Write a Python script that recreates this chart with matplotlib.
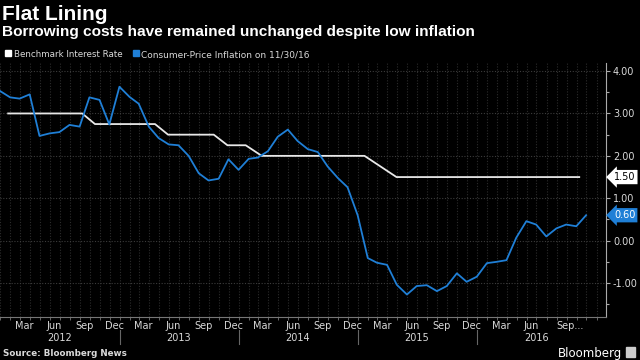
import matplotlib
matplotlib.use('Agg')
import matplotlib.pyplot as plt
import matplotlib.dates as mdates
import matplotlib.transforms as mtransforms
from matplotlib.patches import Rectangle
from matplotlib.lines import Line2D
import pandas as pd

# Thailand consumer-price inflation, % y/y, month-end (Dec 2011 - Nov 2016)
cpi_dates = pd.date_range('2011-12-31', periods=60, freq='ME')
cpi_values = [3.53,
              3.38, 3.35, 3.45, 2.47, 2.53, 2.56, 2.73, 2.69, 3.38, 3.32, 2.74, 3.63,
              3.39, 3.23, 2.69, 2.42, 2.27, 2.25, 2.00, 1.59, 1.42, 1.46, 1.92, 1.67,
              1.93, 1.96, 2.11, 2.45, 2.62, 2.35, 2.16, 2.09, 1.75, 1.48, 1.26, 0.60,
              -0.41, -0.52, -0.57, -1.04, -1.27, -1.07, -1.05, -1.19, -1.07, -0.77, -0.97, -0.85,
              -0.53, -0.50, -0.46, 0.07, 0.46, 0.38, 0.10, 0.29, 0.38, 0.34, 0.60]

# benchmark interest rate, points where the line bends
rate_dates = pd.to_datetime(['2012-01-25', '2012-09-08', '2012-10-17', '2013-04-19',
                             '2013-05-29', '2013-10-16', '2013-11-27', '2014-01-22',
                             '2014-03-12', '2015-01-21', '2015-03-11', '2015-04-29',
                             '2016-11-09'])
rate_values = [3.00, 3.00, 2.75, 2.75, 2.50, 2.50, 2.25, 2.25, 2.00, 2.00, 1.75, 1.50, 1.50]

years = [2012, 2013, 2014, 2015, 2016]
month_names = ['Mar', 'Jun', 'Sep', 'Dec']
y_ticks = [-1, 0, 1, 2, 3, 4]

BLUE = '#1f7fd6'
WHITE = '#e8e8e8'
GRID = '#3c3c3c'
TXT = '#d9d9d9'


def dnum(d):
    return mdates.date2num(pd.Timestamp(d).to_pydatetime())


fig = plt.figure(figsize=(6.4, 3.6), dpi=100, facecolor='black')
ax = fig.add_axes([0, 43 / 360, 606 / 640, 254 / 360])
ax.set_facecolor('black')

ax.plot(rate_dates, rate_values, color=WHITE, lw=1.3, zorder=3)
ax.plot(cpi_dates, cpi_values, color=BLUE, lw=1.3, zorder=4)

ax.set_xlim(dnum('2011-12-31'), dnum('2017-01-30'))
ax.set_ylim(-1.8, 4.19)

# y axis on the right
ax.yaxis.tick_right()
ax.set_yticks(y_ticks)
ax.set_yticklabels(['-1.00' if v < 0 else f'{v:.2f}' for v in y_ticks])
ax.set_yticks([v + 0.5 for v in range(-2, 4)], minor=True)
ax.tick_params(axis='y', which='major', colors='#aaaaaa', labelcolor=TXT,
               length=3, width=0.8, labelsize=7, pad=2)
ax.tick_params(axis='y', which='minor', colors='#aaaaaa', length=2, width=0.8)

# month ticks
tick_pos, tick_labels = [], []
for yr in years:
    for i, name in enumerate(month_names):
        d = pd.Timestamp(yr, 3 * (i + 1), 15)
        if d > pd.Timestamp('2016-11-30'):
            continue
        tick_pos.append(dnum(d))
        tick_labels.append(name)
tick_labels[-1] = 'Sep...'
ax.set_xticks(tick_pos)
ax.set_xticklabels(tick_labels)
ax.set_xticks([dnum(d) for d in pd.date_range('2012-01-01', '2017-01-01', freq='MS')],
              minor=True)
ax.tick_params(axis='x', which='major', length=0, labelsize=7, labelcolor=TXT, pad=3)
ax.tick_params(axis='x', which='minor', length=2, width=0.6, colors='#777777')
last = ax.get_xticklabels()[-1]
last.set_transform(last.get_transform() +
                   mtransforms.ScaledTranslation(6 / 72, 0, fig.dpi_scale_trans))

ax.grid(axis='y', which='major', color=GRID, linestyle=(0, (1, 1.5)), lw=0.8)
ax.grid(axis='x', which='minor', color='#2c2c2c', linestyle=(0, (1, 1.5)), lw=0.8)

for side in ['left', 'top']:
    ax.spines[side].set_visible(False)
ax.spines['right'].set_color('#aaaaaa')
ax.spines['right'].set_linewidth(0.8)
ax.spines['bottom'].set_color('#777777')
ax.spines['bottom'].set_linewidth(0.8)

# year labels and separators
blend = mtransforms.blended_transform_factory(ax.transData, fig.transFigure)
for yr in years:
    ax.text(dnum(f'{yr}-07-01'), (360 - 338) / 360, str(yr),
            transform=blend, ha='center', va='center', fontsize=7, color=TXT)
    if yr > 2012:
        x = dnum(f'{yr}-01-01')
        fig.add_artist(Line2D([x, x], [(360 - 344) / 360, (360 - 330) / 360],
                              transform=blend, color='#666666', lw=0.8))

# value tags on the right axis
tag = mtransforms.blended_transform_factory(ax.transAxes, ax.transData)
ax.text(1.013, rate_values[-1], f'{rate_values[-1]:.2f}', transform=tag,
        ha='left', va='center', fontsize=7, color='black', clip_on=False,
        bbox=dict(boxstyle='larrow,pad=0.22', fc='white', ec='none'))
ax.text(1.013, cpi_values[-1], f'{cpi_values[-1]:.2f}', transform=tag,
        ha='left', va='center', fontsize=7, color='white', clip_on=False,
        bbox=dict(boxstyle='larrow,pad=0.22', fc=BLUE, ec='none'))

# titles
fig.text(2 / 640, (360 - 20) / 360, 'Flat Lining', fontsize=15, fontweight='bold',
         family='Liberation Sans', color='white', va='baseline')
fig.text(2 / 640, (360 - 36) / 360,
         'Borrowing costs have remained unchanged despite low inflation',
         fontsize=11.1, fontweight='bold', family='Liberation Sans', color='white',
         va='baseline')

# legend
fig.add_artist(Rectangle((5 / 640, (360 - 56) / 360), 6 / 640, 6 / 360,
                         transform=fig.transFigure, color='white'))
fig.text(13.5 / 640, (360 - 57) / 360, 'Benchmark Interest Rate', fontsize=6.3,
         color=TXT, va='baseline')
fig.add_artist(Rectangle((133 / 640, (360 - 56) / 360), 6 / 640, 6 / 360,
                         transform=fig.transFigure, color=BLUE))
fig.text(141 / 640, (360 - 57) / 360, 'Consumer-Price Inflation on 11/30/16',
         fontsize=6.5, color=TXT, va='baseline')

# footer
fig.text(3 / 640, (360 - 356) / 360, 'Source: Bloomberg News', fontsize=6.3,
         fontweight='bold', color=TXT, va='baseline')
fig.text(622 / 640, (360 - 357) / 360, 'Bloomberg', fontsize=8.5, color='white',
         ha='right', va='baseline')
fig.add_artist(Rectangle((626 / 640, (360 - 357) / 360), 9 / 640, 10 / 360,
                         transform=fig.transFigure, color='#cccccc'))

fig.savefig('out.png', dpi=100, facecolor='black')
